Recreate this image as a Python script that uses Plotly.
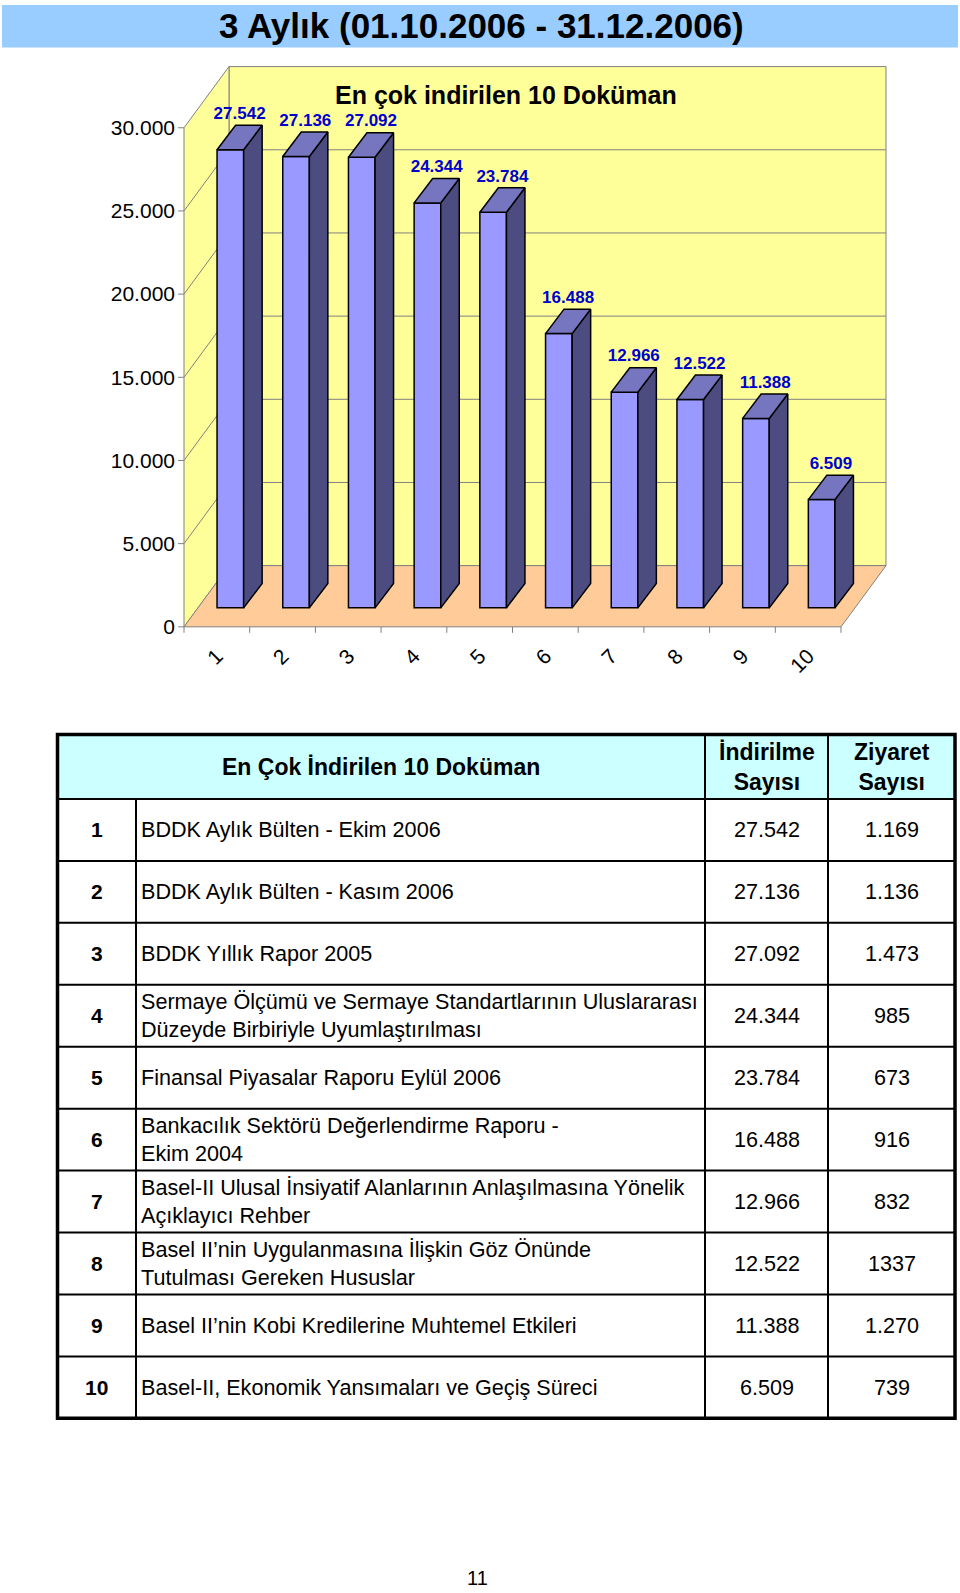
import plotly.graph_objects as go

# ---- data -------------------------------------------------------------
RANKS = [1, 2, 3, 4, 5, 6, 7, 8, 9, 10]
DOWNLOADS = [27542, 27136, 27092, 24344, 23784, 16488, 12966, 12522, 11388, 6509]
VISITS = ["1.169", "1.136", "1.473", "985", "673", "916", "832", "1337", "1.270", "739"]
DOCS = [
    "BDDK Aylık Bülten - Ekim 2006",
    "BDDK Aylık Bülten - Kasım 2006",
    "BDDK Yıllık Rapor 2005",
    "Sermaye Ölçümü ve Sermaye Standartlarının Uluslararası<br>Düzeyde Birbiriyle Uyumlaştırılması",
    "Finansal Piyasalar Raporu Eylül 2006",
    "Bankacılık Sektörü Değerlendirme Raporu -<br>Ekim 2004",
    "Basel-II Ulusal İnsiyatif Alanlarının Anlaşılmasına Yönelik<br>Açıklayıcı Rehber",
    "Basel II’nin Uygulanmasına İlişkin Göz Önünde<br>Tutulması Gereken Hususlar",
    "Basel II’nin Kobi Kredilerine Muhtemel Etkileri",
    "Basel-II, Ekonomik Yansımaları ve Geçiş Süreci",
]
Y_TICKS = [0, 5000, 10000, 15000, 20000, 25000, 30000]

PAGE_TITLE = "3 Aylık (01.10.2006 - 31.12.2006)"
CHART_TITLE = "En çok indirilen 10 Doküman"
TABLE_HEAD = ["En Çok İndirilen 10 Doküman", "İndirilme<br>Sayısı", "Ziyaret<br>Sayısı"]
PAGE_NO = "11"

# ---- page geometry (pixels) -------------------------------------------
W, H = 960, 1593
FONT = "Liberation Sans, Arial, sans-serif"

AX_L, AX_R = 184, 887        # front-left edge of box / right edge of back wall
AX_T, AX_B = 66.7, 628       # top of back wall / front floor edge
PAD = 8                      # room around the box so edges are not clipped
CAT_PX = 65.7                # one category along the front edge
VAL_PX = 83.33 / 5000        # pixels per unit of value
WALL_DX, WALL_DY = 45, 61.3  # depth of the 3d box
BAR_DX, BAR_DY = 13.5, 19    # bars stand this far back in the box
BAR_W = 26.6
BAR_DEPTH_X, BAR_DEPTH_Y = 18.5, 24.5

FRONT = "#9999FF"
SIDE = "#4C4C80"
TOP = "#7575C0"
GRID = "#808080"


def ux(px):
    return px / CAT_PX


def uy(px):
    return px / VAL_PX


def px_x(px):
    return px / W


def px_y(py):
    return 1 - py / H


x_lo = 0.5
x_end = x_lo + len(RANKS)
dx, dy = ux(WALL_DX), uy(WALL_DY)
top_v = Y_TICKS[-1]

fig = go.Figure()

# ---- 3d box walls ------------------------------------------------------
shapes = []
wall_line = dict(color=GRID, width=1)
shapes.append(dict(type="rect", xref="x", yref="y", layer="below",
                   x0=x_lo + dx, x1=x_end + dx, y0=dy, y1=top_v + dy,
                   fillcolor="#FFFF99", line=wall_line))
shapes.append(dict(type="path", xref="x", yref="y", layer="below",
                   path=f"M {x_lo},0 L {x_lo + dx},{dy} L {x_lo + dx},{top_v + dy} L {x_lo},{top_v} Z",
                   fillcolor="#FFFF99", line=wall_line))
shapes.append(dict(type="path", xref="x", yref="y", layer="below",
                   path=f"M {x_lo},0 L {x_end},0 L {x_end + dx},{dy} L {x_lo + dx},{dy} Z",
                   fillcolor="#FFCC99", line=wall_line))
for v in Y_TICKS[1:-1]:
    shapes.append(dict(type="path", xref="x", yref="y", layer="below",
                       path=f"M {x_lo},{v} L {x_lo + dx},{v + dy} L {x_end + dx},{v + dy}",
                       line=dict(color=GRID, width=1)))
# tick marks
for v in Y_TICKS:
    shapes.append(dict(type="line", xref="x", yref="y", layer="below",
                       x0=x_lo - ux(6), x1=x_lo, y0=v, y1=v, line=wall_line))
for k in range(len(RANKS) + 1):
    shapes.append(dict(type="line", xref="x", yref="y", layer="below",
                       x0=x_lo + k, x1=x_lo + k, y0=0, y1=-uy(6), line=wall_line))

# ---- bars --------------------------------------------------------------
base = uy(BAR_DY)
bw = ux(BAR_W)
ddx, ddy = ux(BAR_DEPTH_X), uy(BAR_DEPTH_Y)
centers = [r + ux(BAR_DX) for r in RANKS]

fig.add_trace(go.Bar(
    x=centers, y=DOWNLOADS, base=base, width=bw,
    marker=dict(color=FRONT, line=dict(color="black", width=1.5)),
    hoverinfo="skip", showlegend=False,
))

for c, v in zip(centers, DOWNLOADS):
    xl, xr = c - bw / 2, c + bw / 2
    t = base + v
    fig.add_trace(go.Scatter(
        x=[xr, xr + ddx, xr + ddx, xr, xr], y=[base, base + ddy, t + ddy, t, base],
        mode="lines", fill="toself", fillcolor=SIDE,
        line=dict(color="black", width=1.5), hoverinfo="skip", showlegend=False,
    ))
    fig.add_trace(go.Scatter(
        x=[xl, xr, xr + ddx, xl + ddx, xl], y=[t, t, t + ddy, t + ddy, t],
        mode="lines", fill="toself", fillcolor=TOP,
        line=dict(color="black", width=1.5), hoverinfo="skip", showlegend=False,
    ))

fig.add_trace(go.Scatter(
    x=[c + ddx / 2 for c in centers],
    y=[base + v + ddy + uy(2) for v in DOWNLOADS],
    customdata=DOWNLOADS,
    mode="text", texttemplate="%{customdata:,}", textposition="top center",
    textfont=dict(family=FONT, size=17, color="#0000CC", weight="bold"),
    cliponaxis=False, hoverinfo="skip", showlegend=False,
))

# ---- page furniture ----------------------------------------------------
shapes.append(dict(type="rect", xref="paper", yref="paper", layer="below",
                   x0=px_x(2), x1=px_x(958), y0=px_y(47.5), y1=px_y(5),
                   fillcolor="#99CCFF", line=dict(width=0)))

annotations = [
    dict(text=PAGE_TITLE, x=px_x(481.5), y=px_y(26),
         font=dict(size=35, weight="bold")),
    dict(text=CHART_TITLE, x=px_x(505.5), y=px_y(95.5),
         font=dict(size=25, weight="bold")),
    dict(text=PAGE_NO, x=px_x(477.5), y=px_y(1581), font=dict(size=20)),
]

# ---- table -------------------------------------------------------------
T_L, T_R, T_TOP = 57.5, 955, 736
HEAD_H, ROW_H = 64.5, 62.05
COL_X = [T_L, 136, 705, 828, T_R]
head_b = T_TOP + HEAD_H
t_bot = head_b + ROW_H * len(RANKS)

shapes.append(dict(type="rect", xref="paper", yref="paper", layer="below",
                   x0=px_x(T_L), x1=px_x(T_R), y0=px_y(head_b), y1=px_y(T_TOP),
                   fillcolor="#CCFFFF", line=dict(width=0)))
for k in range(len(RANKS)):
    yy = px_y(head_b + k * ROW_H)
    shapes.append(dict(type="line", xref="paper", yref="paper",
                       x0=px_x(T_L), x1=px_x(T_R), y0=yy, y1=yy,
                       line=dict(color="black", width=2)))
shapes.append(dict(type="line", xref="paper", yref="paper",
                   x0=px_x(COL_X[1]), x1=px_x(COL_X[1]), y0=px_y(head_b), y1=px_y(t_bot),
                   line=dict(color="black", width=2)))
for cx in COL_X[2:4]:
    shapes.append(dict(type="line", xref="paper", yref="paper",
                       x0=px_x(cx), x1=px_x(cx), y0=px_y(T_TOP), y1=px_y(t_bot),
                       line=dict(color="black", width=2)))
shapes.append(dict(type="rect", xref="paper", yref="paper",
                   x0=px_x(T_L), x1=px_x(T_R), y0=px_y(t_bot), y1=px_y(T_TOP),
                   line=dict(color="black", width=3.5)))

head_y = px_y(T_TOP + HEAD_H / 2)
annotations.append(dict(text=TABLE_HEAD[0], x=px_x((COL_X[0] + COL_X[2]) / 2), y=head_y,
                        font=dict(size=23, weight="bold")))
annotations.append(dict(text=TABLE_HEAD[1], x=px_x((COL_X[2] + COL_X[3]) / 2), y=head_y,
                        font=dict(size=23, weight="bold")))
annotations.append(dict(text=TABLE_HEAD[2], x=px_x((COL_X[3] + COL_X[4]) / 2), y=head_y,
                        font=dict(size=23, weight="bold")))

for k, (r, doc, d, vis) in enumerate(zip(RANKS, DOCS, DOWNLOADS, VISITS)):
    yy = px_y(head_b + (k + 0.5) * ROW_H)
    annotations.append(dict(text=str(r), x=px_x((COL_X[0] + COL_X[1]) / 2), y=yy,
                            font=dict(size=21, weight="bold")))
    annotations.append(dict(text=doc, x=px_x(COL_X[1] + 3), y=yy, xanchor="left",
                            align="left", font=dict(size=21.6)))
    annotations.append(dict(text=f"{d:,}".replace(",", "."), x=px_x((COL_X[2] + COL_X[3]) / 2),
                            y=yy, font=dict(size=21.6)))
    annotations.append(dict(text=vis, x=px_x((COL_X[3] + COL_X[4]) / 2), y=yy,
                            font=dict(size=21.6)))

for a in annotations:
    a.setdefault("xref", "paper")
    a.setdefault("yref", "paper")
    a.setdefault("xanchor", "center")
    a.setdefault("yanchor", "middle")
    a.setdefault("showarrow", False)
    a["font"] = dict(family=FONT, color="black", **a["font"])

fig.update_layout(
    width=W, height=H,
    margin=dict(l=0, r=0, t=0, b=0),
    paper_bgcolor="white", plot_bgcolor="rgba(0,0,0,0)",
    separators=",.",
    font=dict(family=FONT, color="black"),
    showlegend=False,
    shapes=shapes,
    annotations=annotations,
    xaxis=dict(
        domain=[px_x(AX_L - PAD), px_x(AX_R + PAD)],
        range=[x_lo - ux(PAD), x_lo + ux(AX_R - AX_L + PAD)],
        tickmode="array", tickvals=RANKS, ticktext=[str(r) for r in RANKS],
        tickangle=-45, ticks="", showgrid=False, zeroline=False, showline=False,
        tickfont=dict(family=FONT, size=21, color="black"),
        ticklabelstandoff=4, fixedrange=True,
    ),
    yaxis=dict(
        domain=[px_y(AX_B + PAD), px_y(AX_T - PAD)],
        range=[-uy(PAD), uy(AX_B - AX_T + PAD)],
        tickmode="array", tickvals=Y_TICKS, tickformat=",",
        ticks="", showgrid=False, zeroline=False, showline=False,
        tickfont=dict(family=FONT, size=21, color="black"),
        fixedrange=True,
    ),
)

# the page is photographed at exactly the figure size: drop the body margin
fig.write_html("out.html", config={"displayModeBar": False},
               post_script="document.body.style.margin='0';")
